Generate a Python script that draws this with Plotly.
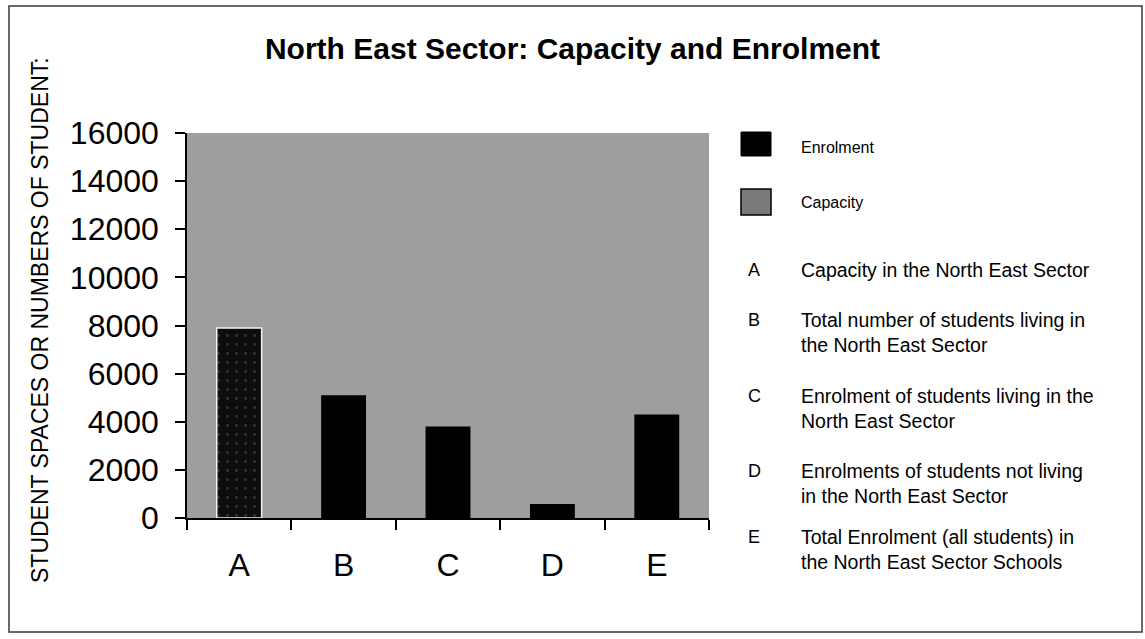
import plotly.graph_objects as go

# ---- data -------------------------------------------------------------
categories = ["A", "B", "C", "D", "E"]

capacity_cats = ["A"]
capacity_vals = [7900]

enrolment_cats = ["B", "C", "D", "E"]
enrolment_vals = [5100, 3800, 580, 4300]

y_tick_vals = [0, 2000, 4000, 6000, 8000, 10000, 12000, 14000, 16000]

key_letters = ["A", "B", "C", "D", "E"]
key_texts = [
    "Capacity in the North East Sector",
    "Total number of students living in<br>the North East Sector",
    "Enrolment of students living in the<br>North East Sector",
    "Enrolments of students not living<br>in the North East Sector",
    "Total Enrolment (all students) in<br>the North East Sector Schools",
]

# ---- page geometry (pixels) -------------------------------------------
W, H = 1145, 639
PL, PR, PT, PB = 187, 709, 133, 518   # plot-area edges
FONT = "Liberation Sans, Arial, Helvetica, sans-serif"


def px(x):
    return (x - PL) / (PR - PL)


def py(y):
    return (PB - y) / (PB - PT)


fig = go.Figure()

fig.add_trace(go.Bar(
    x=capacity_cats, y=capacity_vals, name="Capacity",
    width=0.43,
    marker=dict(
        color="#0d0d0d",
        line=dict(color="#f2f2f2", width=1.5),
        pattern=dict(shape=".", fgcolor="#5a5a5a", bgcolor="#0d0d0d",
                     size=9, solidity=0.08),
    ),
))

fig.add_trace(go.Bar(
    x=enrolment_cats, y=enrolment_vals, name="Enrolment",
    width=0.43,
    marker=dict(color="#000000", line=dict(width=0)),
))

# ---- key on the right ---------------------------------------------------
shapes = [
    # outer frame
    dict(type="rect", xref="paper", yref="paper",
         x0=px(9), x1=px(1142), y0=py(632), y1=py(6),
         line=dict(color="#3a3a3a", width=1.5), fillcolor="rgba(0,0,0,0)",
         layer="below"),
    # Enrolment swatch
    dict(type="rect", xref="paper", yref="paper",
         x0=px(741), x1=px(771), y0=py(156), y1=py(132),
         line=dict(color="#000000", width=1), fillcolor="#000000"),
    # Capacity swatch
    dict(type="rect", xref="paper", yref="paper",
         x0=px(741), x1=px(771), y0=py(215), y1=py(189),
         line=dict(color="#000000", width=1.5), fillcolor="#7a7a7a"),
]

annotations = [
    dict(text="Enrolment", x=px(799), y=py(147)),
    dict(text="Capacity", x=px(799), y=py(202)),
]
for a in annotations:
    a.update(xref="paper", yref="paper", xanchor="left", yanchor="middle",
             showarrow=False, align="left",
             font=dict(family=FONT, size=16, color="#000000"))

key_rows = [270, 332, 408, 483, 549]
for letter, text, yc in zip(key_letters, key_texts, key_rows):
    annotations.append(dict(
        text=letter, x=px(754), y=py(yc if "<br>" not in text else yc - 12),
        xref="paper", yref="paper", xanchor="center", yanchor="middle",
        showarrow=False, font=dict(family=FONT, size=18, color="#000000")))
    annotations.append(dict(
        text=text, x=px(799), y=py(yc),
        xref="paper", yref="paper", xanchor="left", yanchor="middle",
        showarrow=False, align="left",
        font=dict(family=FONT, size=19.5, color="#000000")))

# y-axis caption
annotations.append(dict(
    text="STUDENT SPACES OR NUMBERS OF STUDENT:",
    x=px(40), y=py(320), xref="paper", yref="paper",
    xanchor="center", yanchor="middle", textangle=-90, showarrow=False,
    font=dict(family=FONT, size=23, color="#000000")))

fig.update_layout(
    width=W, height=H, autosize=False,
    margin=dict(l=PL, r=W - PR, t=PT, b=H - PB, pad=0),
    paper_bgcolor="#ffffff",
    plot_bgcolor="#9e9e9e",
    barmode="overlay",
    showlegend=False,
    title=dict(
        text="<b>North East Sector: Capacity and Enrolment</b>",
        x=0.5, xref="container", xanchor="center",
        y=1 - 48 / H, yref="container", yanchor="middle",
        font=dict(family=FONT, size=30, color="#000000"),
    ),
    xaxis=dict(
        type="category", categoryorder="array", categoryarray=categories,
        range=[-0.5, 4.5], tickson="boundaries",
        ticks="outside", ticklen=10, tickwidth=1.5, tickcolor="#000000",
        showline=True, linecolor="#000000", linewidth=1.5,
        showgrid=False, zeroline=False,
        tickfont=dict(family=FONT, size=32, color="#000000"),
        ticklabelstandoff=18,
    ),
    yaxis=dict(
        range=[0, 16000], tickvals=y_tick_vals,
        ticktext=[str(v) for v in y_tick_vals],
        ticks="outside", ticklen=10, tickwidth=1.5, tickcolor="#000000",
        showline=True, linecolor="#000000", linewidth=1.5,
        showgrid=False, zeroline=False,
        tickfont=dict(family=FONT, size=32, color="#000000"),
        ticklabelstandoff=10,
    ),
    shapes=shapes,
    annotations=annotations,
)

fig.write_html("out.html")
